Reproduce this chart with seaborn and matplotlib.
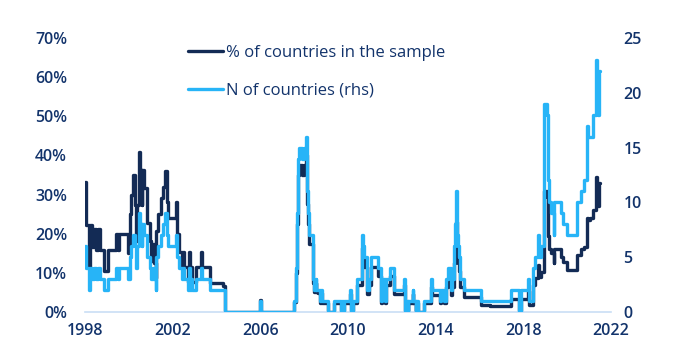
import matplotlib
matplotlib.use("Agg")
import matplotlib.pyplot as plt
from matplotlib.lines import Line2D
from matplotlib.ticker import FuncFormatter, MultipleLocator
import seaborn as sns
import pandas as pd

# ---- data (decimal years, step values) ----
dates = [
    1998.00, 1998.04, 1998.18, 1998.25, 1998.33, 1998.40, 1998.50, 1998.58, 1998.70, 1998.85,
    1999.05, 1999.40, 1999.50, 1999.57, 1999.95, 2000.05, 2000.12, 2000.20, 2000.28, 2000.33,
    2000.38, 2000.45, 2000.52, 2000.58, 2000.62, 2000.68, 2000.85, 2000.95, 2001.00, 2001.08,
    2001.15, 2001.22, 2001.25, 2001.35, 2001.47, 2001.55, 2001.65, 2001.72, 2001.80, 2002.15,
    2002.22, 2002.30, 2002.38, 2002.44, 2002.46, 2002.50, 2002.70, 2002.74, 2002.77, 2002.85,
    2002.90, 2003.05, 2003.27, 2003.32, 2003.70, 2004.28, 2004.40, 2005.97, 2006.03, 2007.55,
    2007.62, 2007.66, 2007.72, 2007.78, 2007.92, 2008.00, 2008.08, 2008.15, 2008.19, 2008.24,
    2008.40, 2008.47, 2008.52, 2008.56, 2008.62, 2008.70, 2008.75, 2008.80, 2009.08, 2009.35,
    2009.68, 2009.72, 2009.76, 2009.80, 2010.10, 2010.15, 2010.25, 2010.42, 2010.62, 2010.67,
    2010.75, 2010.88, 2010.95, 2011.05, 2011.35, 2011.50, 2011.55, 2011.68, 2011.75, 2011.92,
    2012.08, 2012.55, 2012.62, 2012.66, 2012.72, 2012.76, 2012.95, 2012.98, 2013.08, 2013.12,
    2013.18, 2013.47, 2013.77, 2013.85, 2014.20, 2014.25, 2014.38, 2014.45, 2014.55, 2014.70,
    2014.76, 2014.82, 2014.88, 2014.92, 2014.96, 2015.00, 2015.05, 2015.12, 2015.30, 2016.07,
    2016.50, 2017.43, 2017.80, 2017.88, 2018.20, 2018.25, 2018.42, 2018.55, 2018.68, 2018.72,
    2018.80, 2018.95, 2019.06, 2019.12, 2019.17, 2019.26, 2019.38, 2019.42, 2019.70, 2019.80,
    2020.00, 2020.47, 2020.62, 2020.75, 2020.92, 2020.97, 2021.05, 2021.18, 2021.30, 2021.38,
    2021.41, 2021.44, 2021.52,
]

pct_countries = [
    33.3, 22.2, 11.1, 22.2, 16.7, 21.1, 15.8, 21.1, 15.8, 10.5,
    15.8, 20.0, 15.8, 20.0, 15.0, 25.0, 30.0, 35.0, 27.3, 18.2,
    27.3, 40.9, 36.4, 27.3, 36.4, 31.8, 22.7, 18.2, 13.0, 17.4,
    12.5, 8.7, 20.8, 25.0, 29.2, 32.0, 36.0, 28.0, 24.0, 28.0,
    20.0, 15.4, 15.4, 11.5, 15.4, 11.5, 7.7, 15.4, 7.7, 11.5,
    7.7, 11.5, 15.4, 11.5, 7.4, 6.7, 0.0, 3.0, 0.0, 2.5,
    10.0, 22.5, 35.0, 37.5, 35.0, 37.5, 40.0, 27.5, 22.5, 17.5,
    7.5, 5.0, 7.5, 5.0, 4.8, 2.4, 4.8, 2.4, 0.0, 2.4,
    0.0, 2.4, 0.0, 2.4, 4.7, 0.0, 2.3, 7.0, 16.3, 14.0,
    11.6, 4.7, 7.0, 11.6, 9.3, 2.3, 7.0, 2.3, 7.0, 9.1,
    4.5, 6.8, 0.0, 2.3, 0.0, 2.3, 4.5, 2.3, 0.0, 2.3,
    0.0, 2.2, 6.5, 4.3, 2.2, 4.3, 2.2, 6.4, 8.5, 4.3,
    6.4, 12.5, 16.7, 22.9, 14.6, 12.5, 10.4, 6.3, 3.8, 1.8,
    1.6, 3.4, 0.0, 3.4, 5.3, 1.7, 7.0, 8.6, 12.0, 9.0,
    10.3, 31.0, 29.5, 19.4, 16.1, 15.0, 12.5, 16.0, 14.0, 12.7,
    10.8, 14.5, 16.0, 16.5, 24.0, 23.5, 24.0, 26.0, 34.5, 32.0,
    27.0, 33.0, 33.0,
]

n_countries = [
    6, 4, 2, 4, 3, 4, 3, 4, 3, 2,
    3, 4, 3, 4, 3, 5, 6, 7, 6, 4,
    6, 9, 8, 6, 8, 7, 5, 4, 3, 4,
    3, 2, 5, 6, 7, 8, 9, 7, 6, 7,
    5, 4, 4, 3, 4, 3, 2, 4, 2, 3,
    2, 3, 4, 3, 2, 2, 0, 1, 0, 1,
    4, 9, 14, 15, 14, 15, 16, 11, 9, 7,
    3, 2, 3, 2, 2, 1, 2, 1, 0, 1,
    0, 1, 0, 1, 2, 0, 1, 3, 7, 6,
    5, 2, 3, 5, 4, 1, 3, 1, 3, 4,
    2, 3, 0, 1, 0, 1, 2, 1, 0, 1,
    0, 1, 3, 2, 1, 2, 1, 3, 4, 2,
    3, 6, 8, 11, 7, 6, 5, 3, 2, 1,
    1, 2, 0, 2, 3, 1, 4, 5, 7, 5,
    6, 19, 18, 12, 10, 9, 7, 10, 9, 8,
    7, 10, 11, 12, 17, 16, 16, 18, 23, 21,
    18, 22, 22,
]

pct_label = "% of countries in the sample"
n_label = "N of countries (rhs)"
x_ticks = [1998, 2002, 2006, 2010, 2014, 2018, 2022]

# ---- style ----
DARK = "#132B55"
LIGHT = "#27B4F7"
TEXT = "#12336B"
AXIS = "#C9DEF5"

sns.set_theme(style="white")
plt.rcParams["font.family"] = ["Open Sans", "DejaVu Sans"]

df = pd.DataFrame({"date": dates, "pct": pct_countries, "n": n_countries})

fig = plt.figure(figsize=(6.91, 3.55), dpi=100)
ax = fig.add_axes([85 / 691, 43 / 355, 526 / 691, 274 / 355])
ax2 = ax.twinx()

sns.lineplot(data=df, x="date", y="pct", ax=ax, color=DARK, linewidth=2.4,
             drawstyle="steps-post", estimator=None, legend=False)
sns.lineplot(data=df, x="date", y="n", ax=ax2, color=LIGHT, linewidth=2.4,
             drawstyle="steps-post", estimator=None, legend=False)

ax.set_xlim(1998, 2022)
ax.set_ylim(0, 70)
ax2.set_ylim(0, 25)
ax.set_xticks(x_ticks)
ax.yaxis.set_major_locator(MultipleLocator(10))
ax2.yaxis.set_major_locator(MultipleLocator(5))
ax.yaxis.set_major_formatter(FuncFormatter(lambda v, p: f"{v:.0f}%"))

for a in (ax, ax2):
    a.set_xlabel("")
    a.set_ylabel("")
    for s in a.spines.values():
        s.set_visible(False)
    a.grid(False)
ax.spines["bottom"].set_visible(True)
ax.spines["bottom"].set_color(AXIS)
ax.spines["bottom"].set_linewidth(1.2)

ax.tick_params(axis="y", length=0, pad=13, labelsize=11.5, labelcolor=TEXT)
ax.tick_params(axis="x", length=0, pad=8, labelsize=11.5, labelcolor=TEXT)
ax2.tick_params(axis="y", length=0, pad=9, labelsize=11.5, labelcolor=TEXT)
for lab in ax.get_xticklabels() + ax.get_yticklabels() + ax2.get_yticklabels():
    lab.set_fontweight("semibold")

handles = [Line2D([], [], color=DARK, linewidth=2.4),
           Line2D([], [], color=LIGHT, linewidth=2.4)]
leg = ax2.legend(handles, [pct_label, n_label], loc="upper left",
                 bbox_to_anchor=(0.196, 0.974), frameon=False, fontsize=12,
                 handlelength=2.1, handletextpad=0.2, labelspacing=1.3,
                 borderpad=0, borderaxespad=0)
for t in leg.get_texts():
    t.set_color(TEXT)

fig.savefig("out.png", dpi=100)
